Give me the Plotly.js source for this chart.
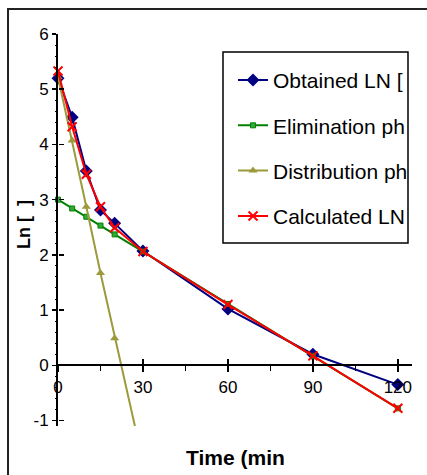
<!DOCTYPE html>
<html><head><meta charset="utf-8">
<script src="https://cdn.plot.ly/plotly-3.0.1.min.js"></script>
<style>html,body{margin:0;padding:0;background:#fff}#chart{width:427px;height:475px}</style>
</head><body><div id="chart"></div>
<script>
const timeMin = [0, 5, 10, 15, 20, 30, 60, 90, 120];
const obtainedLN = [5.20, 4.49, 3.52, 2.81, 2.57, 2.07, 1.02, 0.20, -0.35];
const eliminationPhase = [3.00, 2.84, 2.69, 2.53, 2.37, 2.06, 1.11, 0.17, -0.78];
const distTime = [0, 5, 10, 15, 20, 30];
const distributionPhase = [5.22, 4.07, 2.87, 1.67, 0.49, -1.75];
const calculatedLN = [5.33, 4.32, 3.46, 2.87, 2.49, 2.06, 1.10, 0.17, -0.78];
const seriesNames = ['Obtained LN [', 'Elimination ph', 'Distribution ph', 'Calculated LN'];
const xTickVals = [0, 30, 60, 90, 120];
const xTickText = ['0', '30', '60', '90', '120'];
const yTickVals = [-1, 0, 1, 2, 3, 4, 5, 6];
const yTickText = ['-1', '0', '1', '2', '3', '4', '5', '6'];
const xTitle = 'Time (min';
const yTitle = 'Ln\u00a0[\u00a0\u00a0]';

const FONT = 'Liberation Sans, Arial, sans-serif';
const X_RANGE = [0, 125];
const Y_RANGE = [-1.1, 6];
const xPos = (0 - Y_RANGE[0]) / (Y_RANGE[1] - Y_RANGE[0]);

const traces = [
  {x: timeMin, y: obtainedLN, name: seriesNames[0], legendgroup: 'a', mode: 'lines+markers',
   line: {color: '#000080', width: 2}, marker: {symbol: 'diamond', size: 10, color: '#000080'}, cliponaxis: false},
  {x: timeMin, y: eliminationPhase, name: seriesNames[1], legendgroup: 'b', mode: 'lines+markers',
   line: {color: '#008000', width: 2}, marker: {symbol: 'square', size: 5, color: '#33aa33', line: {color: '#008000', width: 1}}, cliponaxis: false},
  {x: distTime, y: distributionPhase, name: seriesNames[2], legendgroup: 'c', mode: 'lines+markers',
   line: {color: '#9c9a3c', width: 2}, marker: {symbol: 'triangle-up', size: 8, color: '#9c9a3c'}, cliponaxis: true},
  {x: timeMin, y: calculatedLN, name: seriesNames[3], legendgroup: 'd', mode: 'lines+markers',
   line: {color: '#ff0000', width: 2}, marker: {symbol: 'x-thin', size: 9, line: {color: '#ff0000', width: 2}}, cliponaxis: false},
  // empty helper trace so the overlaid tick-only axes (inner half of crossing ticks + minor ticks) are drawn
  {x: [], y: [], xaxis: 'x2', yaxis: 'y2', showlegend: false, hoverinfo: 'skip', mode: 'markers'}
];

const axCommon = {showgrid: false, zeroline: false, linecolor: '#000', tickcolor: '#000', tickwidth: 1.5,
  tickfont: {family: FONT, size: 17, color: '#000'}};

const layout = {
  width: 427, height: 475,
  margin: {l: 58, r: 15, t: 34, b: 49},
  paper_bgcolor: '#fff', plot_bgcolor: 'rgba(0,0,0,0)',
  font: {family: FONT, color: '#000'},
  showlegend: true,
  xaxis: Object.assign({}, axCommon, {range: X_RANGE, anchor: 'free', position: xPos,
    tickmode: 'array', tickvals: xTickVals, ticktext: xTickText, ticks: 'outside', ticklen: 6,
    showline: true, linewidth: 2}),
  xaxis2: Object.assign({}, axCommon, {range: X_RANGE, overlaying: 'x', anchor: 'free', position: xPos,
    tickmode: 'linear', tick0: xTickVals[0], dtick: xTickVals[1] - xTickVals[0], ticks: 'inside', ticklen: 6,
    showticklabels: false, showline: false,
    minor: {tickmode: 'linear', tick0: 0, dtick: 15, ticks: 'outside', ticklen: 5, tickwidth: 1.5, tickcolor: '#000', showgrid: false}}),
  yaxis: Object.assign({}, axCommon, {range: Y_RANGE, tickmode: 'array', tickvals: yTickVals, ticktext: yTickText,
    ticks: 'outside', ticklen: 4, showline: true, linewidth: 2}),
  yaxis2: Object.assign({}, axCommon, {range: Y_RANGE, overlaying: 'y', side: 'left', anchor: 'free', position: 0,
    tickmode: 'linear', tick0: 0, dtick: yTickVals[1] - yTickVals[0], ticks: 'inside', ticklen: 5,
    showticklabels: false, showline: false,
    minor: {tickmode: 'linear', tick0: 0, dtick: 0.2, ticks: 'outside', ticklen: 3, tickwidth: 1, tickcolor: '#000', showgrid: false}}),
  legend: {x: 0.4944, y: 0.934, xanchor: 'left', yanchor: 'top', bgcolor: 'rgba(0,0,0,0)', borderwidth: 0,
    font: {family: FONT, size: 21, color: '#000'}, tracegroupgap: 15, itemwidth: 30},
  annotations: [
    {xref: 'paper', yref: 'paper', x: 0.5, y: -0.0791, xanchor: 'center', yanchor: 'middle',
     text: xTitle, showarrow: false, font: {family: FONT, size: 21, weight: 'bold', color: '#000'}},
    {xref: 'paper', yref: 'paper', x: (24 - 58) / 354, y: 1 - (225 - 34) / 392, xanchor: 'center', yanchor: 'middle',
     textangle: -90, text: yTitle, showarrow: false, font: {family: FONT, size: 18, weight: 'bold', color: '#000'}}
  ],
  shapes: [
    {type: 'rect', xref: 'paper', yref: 'paper', x0: -0.1412, x1: 1.06, y0: -0.14, y1: 1.0638,
     line: {color: '#222', width: 2}, layer: 'below'},
    {type: 'rect', xref: 'paper', yref: 'paper', x0: 0.4661, x1: 0.9887, y0: 0.4668, y1: 0.9541,
     line: {color: '#000', width: 1.5}, fillcolor: 'rgba(0,0,0,0)', layer: 'above'}
  ]
};

Plotly.newPlot('chart', traces, layout, {displayModeBar: false, staticPlot: true});
</script></body></html>
